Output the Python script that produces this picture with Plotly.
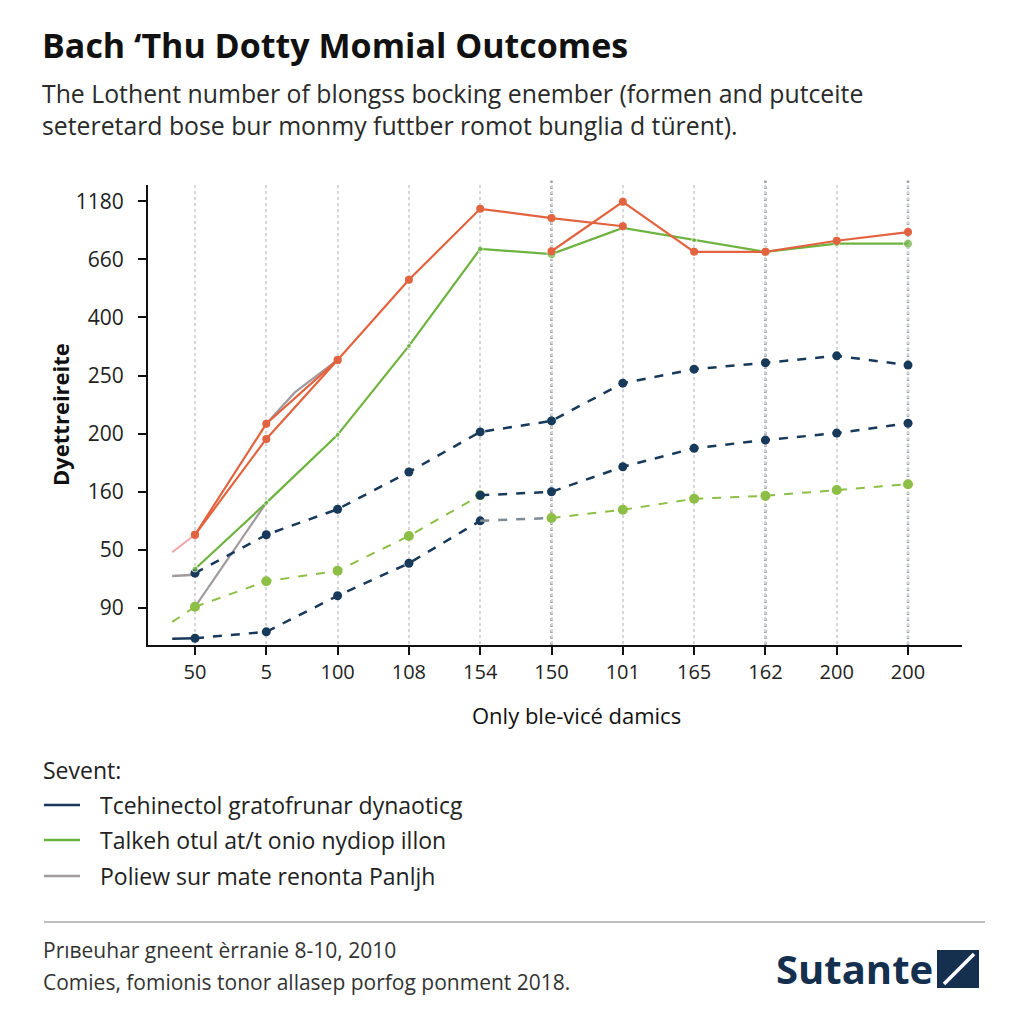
import plotly.graph_objects as go

# ---------------- data ----------------
x_labels = ["50", "5", "100", "108", "154", "150", "101", "165", "162", "200", "200"]
y_tick_labels = ["90", "50", "160", "200", "250", "400", "660", "1180"]  # bottom -> top
x_idx = list(range(len(x_labels)))
y_idx = list(range(len(y_tick_labels)))

# values expressed in axis-level units (position along the labelled scale)
red_a = [1.26, 3.17, 4.27, 5.65, 6.87, 6.71, 6.57, None, None, None, None]
red_b = [1.26, 2.91, 4.27, None, None, 6.14, 6.99, 6.13, 6.13, 6.32, 6.47]
green_solid = [0.67, 1.81, 2.98, 4.51, 6.18, 6.09, 6.54, 6.33, 6.13, 6.27, 6.27]
navy_upper = [0.60, 1.26, 1.70, 2.34, 3.03, 3.22, 3.87, 4.11, 4.22, 4.34, 4.18]
navy_mid = [None, None, None, None, 1.94, 2.00, 2.43, 2.75, 2.89, 3.01, 3.18]
green_dash = [0.02, 0.46, 0.64, 1.24, 1.94, None, None, None, None, None, None]
green_dash_b = [None, None, None, None, None, 1.55, 1.69, 1.88, 1.93, 2.03, 2.13]
navy_low = [-0.52, -0.41, 0.21, 0.77, 1.50, None, None, None, None, None, None]
gray_dash_link_x = [4, 5]
gray_dash_link = [1.50, 1.55]
gray_x = [0, 1, None, 1, 1.4, 2]
gray_y = [0.02, 1.81, None, 3.17, 3.71, 4.27]
stub_x = [-0.32, 0]
pink_stub = [0.96, 1.26]
gray_stub = [0.55, 0.57]
green_dash_stub = [-0.24, 0.02]
navy_low_stub = [-0.53, -0.52]

dark_grid_idx = [5, 8, 10]

legend_names = ["Tcehinectol gratofrunar dynaoticg",
                "Talkeh otul at/t onio nydiop illon",
                "Poliew sur mate renonta Panljh"]

# ---------------- styling ----------------
RED = "#E2633F"
GREEN = "#6DB33F"
GREEN_L = "#8DBE45"
NAVY = "#17395A"
GRAY = "#A09A9C"
PINK = "#EBA5A5"
FONT = "Open Sans"

OFF = 8  # page body margin
W, H = 1016, 1016
L, R, T, B = 140, 62, 177, 379
PW, PH = W - L - R, H - T - B


def px(x):
    return (x - OFF - L) / PW


def py(y):
    return (H - B - (y - OFF)) / PH


fig = go.Figure()

# stubs
fig.add_trace(go.Scatter(x=stub_x, y=pink_stub, mode="lines",
                         line=dict(color=PINK, width=2), showlegend=False))
fig.add_trace(go.Scatter(x=stub_x, y=gray_stub, mode="lines",
                         line=dict(color=GRAY, width=2.5), showlegend=False))
fig.add_trace(go.Scatter(x=stub_x, y=green_dash_stub, mode="lines",
                         line=dict(color=GREEN_L, width=2, dash="dash"), showlegend=False))
fig.add_trace(go.Scatter(x=stub_x, y=navy_low_stub, mode="lines",
                         line=dict(color=NAVY, width=2.5), showlegend=False))

# gray solid
fig.add_trace(go.Scatter(x=gray_x, y=gray_y, mode="lines", connectgaps=False,
                         line=dict(color=GRAY, width=2.2), showlegend=False))

# dashed series
fig.add_trace(go.Scatter(x=x_idx, y=navy_low, mode="lines+markers",
                         line=dict(color=NAVY, width=2.5, dash="dash"),
                         marker=dict(color=NAVY, size=9), showlegend=False))
fig.add_trace(go.Scatter(x=gray_dash_link_x, y=gray_dash_link, mode="lines",
                         line=dict(color="#7E8A94", width=2.5, dash="dash"), showlegend=False))
fig.add_trace(go.Scatter(x=x_idx, y=green_dash, mode="lines+markers",
                         line=dict(color=GREEN_L, width=2, dash="dash"),
                         marker=dict(color=GREEN_L, size=10), showlegend=False))
fig.add_trace(go.Scatter(x=x_idx, y=green_dash_b, mode="lines+markers",
                         line=dict(color=GREEN_L, width=2, dash="dash"),
                         marker=dict(color=GREEN_L, size=10), showlegend=False))
fig.add_trace(go.Scatter(x=x_idx, y=navy_mid, mode="lines+markers",
                         line=dict(color=NAVY, width=2.5, dash="dash"),
                         marker=dict(color=NAVY, size=9), showlegend=False))
fig.add_trace(go.Scatter(x=x_idx, y=navy_upper, mode="lines+markers",
                         line=dict(color=NAVY, width=2.5, dash="dash"),
                         marker=dict(color=NAVY, size=9), showlegend=False))

# solid series
fig.add_trace(go.Scatter(x=x_idx, y=green_solid, mode="lines+markers",
                         line=dict(color=GREEN, width=2.2),
                         marker=dict(color=GREEN, size=[6, 5, 5, 5, 6, 9, 6, 5, 9, 6, 9]),
                         showlegend=False))
fig.add_trace(go.Scatter(x=x_idx, y=red_a, mode="lines+markers",
                         line=dict(color=RED, width=2.2),
                         marker=dict(color=RED, size=8), showlegend=False))
fig.add_trace(go.Scatter(x=x_idx, y=red_b, mode="lines+markers",
                         line=dict(color=RED, width=2.2),
                         marker=dict(color=RED, size=8), showlegend=False))

shapes = []
for i in dark_grid_idx:
    shapes.append(dict(type="line", xref="x", yref="paper", x0=i, x1=i, y0=0, y1=1.01,
                       line=dict(color="#9EA3A8", width=2.5, dash="dot"), layer="below"))

# manual legend swatches
leg_colors = [NAVY, GREEN, GRAY]
leg_y = [805, 840, 876]
for c, yy in zip(leg_colors, leg_y):
    shapes.append(dict(type="line", xref="paper", yref="paper", x0=px(44), x1=px(80),
                       y0=py(yy), y1=py(yy), line=dict(color=c, width=2.5)))
# footer rule
shapes.append(dict(type="line", xref="paper", yref="paper", x0=px(44), x1=px(985),
                   y0=py(922), y1=py(922), line=dict(color="#A8A8A8", width=1.5)))
# logo box
shapes.append(dict(type="rect", xref="paper", yref="paper", x0=px(937), x1=px(979),
                   y0=py(988), y1=py(950), line=dict(width=0), fillcolor="#15304F"))
shapes.append(dict(type="line", xref="paper", yref="paper", x0=px(944), x1=px(974),
                   y0=py(984), y1=py(954), line=dict(color="white", width=3.5)))

ann = []


def text(x, y, s, size, color="#222", bold=False, xanchor="left", angle=0, family=FONT):
    ann.append(dict(xref="paper", yref="paper", x=px(x), y=py(y), text=("<b>%s</b>" % s) if bold else s,
                    showarrow=False, xanchor=xanchor, yanchor="middle", textangle=angle,
                    font=dict(family=family, size=size, color=color)))


text(40, 45, "Bach ‘Thu Dotty Momial Outcomes", 34, "#111", bold=True)
text(40, 93, "The Lothent number of blongss bocking enember (formen and putceite", 24.8, "#2a2a2a")
text(40, 125, "seteretard bose bur monmy futtber romot bunglia d türent).", 24.8, "#2a2a2a")
text(60, 415, "Dyettreireite", 22, "#111", bold=True, xanchor="center", angle=-90)
text(576, 715, "Only ble-vicé damics", 22, "#111", xanchor="center")
text(41, 770, "Sevent:", 23, "#222")
for name, yy in zip(legend_names, leg_y):
    text(98, yy, name, 23, "#222")
text(41, 950, "Prıвeuhar gneent èrranie 8-10, 2010", 21, "#333")
text(41, 982, "Comies, fomionis tonor allasep porfog ponment 2018.", 21, "#333")
text(935, 968, "Sutante", 40, "#15304F", bold=True, xanchor="right")

fig.update_layout(
    width=W, height=H,
    margin=dict(l=L, r=R, t=T, b=B, autoexpand=False),
    paper_bgcolor="white", plot_bgcolor="white",
    showlegend=False,
    shapes=shapes, annotations=ann,
    font=dict(family=FONT, color="#222"),
    xaxis=dict(range=[-0.659, 10.757], tickmode="array", tickvals=x_idx, ticktext=x_labels,
               showgrid=True, gridcolor="#D4D7DA", griddash="dot", gridwidth=2,
               showline=True, linecolor="#111", linewidth=2,
               ticks="outside", ticklen=8, tickwidth=2, tickcolor="#111",
               tickfont=dict(size=20, color="#222"), zeroline=False, fixedrange=True),
    yaxis=dict(range=[-0.637, 7.28], tickmode="array", tickvals=y_idx, ticktext=y_tick_labels,
               showgrid=False, showline=True, linecolor="#111", linewidth=2,
               ticks="outside", ticklen=8, tickwidth=2, tickcolor="#111",
               ticklabelstandoff=10,
               tickfont=dict(size=21, color="#222"), zeroline=False, fixedrange=True),
)

fig.write_html("out.html")
